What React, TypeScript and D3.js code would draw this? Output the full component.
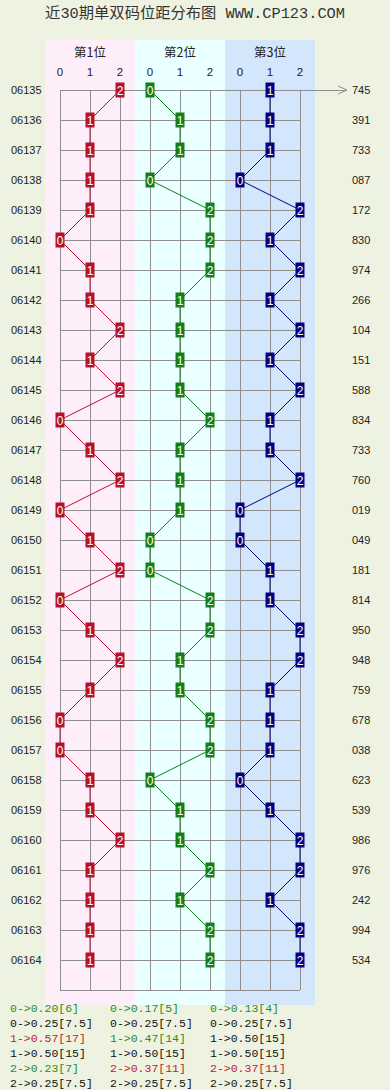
import React, { useEffect } from "react";
import * as d3 from "d3";

// issue numbers and draw results
const issues = ["06135", "06136", "06137", "06138", "06139", "06140", "06141", "06142", "06143", "06144",
  "06145", "06146", "06147", "06148", "06149", "06150", "06151", "06152", "06153", "06154",
  "06155", "06156", "06157", "06158", "06159", "06160", "06161", "06162", "06163", "06164"];
const numbers = ["745", "391", "733", "087", "172", "830", "974", "266", "104", "151",
  "588", "834", "733", "760", "019", "049", "181", "814", "950", "948",
  "759", "678", "038", "623", "539", "986", "976", "242", "994", "534"];

// position values (0/1/2) for each of the three places
const pos1 = [2, 1, 1, 1, 1, 0, 1, 1, 2, 1, 2, 0, 1, 2, 0, 1, 2, 0, 1, 2, 1, 0, 0, 1, 1, 2, 1, 1, 1, 1];
const pos2 = [0, 1, 1, 0, 2, 2, 2, 1, 1, 1, 1, 2, 1, 1, 1, 0, 0, 2, 2, 1, 1, 2, 2, 0, 1, 1, 2, 1, 2, 2];
const pos3 = [1, 1, 1, 0, 2, 1, 2, 1, 2, 1, 2, 1, 1, 2, 0, 0, 1, 1, 2, 2, 1, 1, 1, 0, 1, 2, 2, 1, 2, 2];

const panelNames = ["第1位", "第2位", "第3位"];
const digits = [0, 1, 2];
const expected = [0.25, 0.5, 0.25];

const W = 390, H = 1090;
const colors = ["#b8102c", "#12801a", "#000080"];
const panelBg = ["#fdeefa", "#eaffff", "#d4e6fb"];

const App = () => {
  useEffect(() => {
    document.body.style.margin = "0";
  }, []);

  const series = [pos1, pos2, pos3];
  const x = d3.scaleLinear().domain([0, 8]).range([60, 300]);
  const y = d3.scaleLinear().domain([0, issues.length - 1]).range([90, 960]);
  const yBottom = y(issues.length);
  const cols = d3.range(9);

  const line = (p: number) =>
    d3.line<number>()
      .x(d => x(p * 3 + d))
      .y((d, i) => y(i));

  const statRows = (vals: number[]) => {
    const n = vals.length;
    const rows: { text: string; color: string }[] = [];
    digits.forEach((d, k) => {
      const c = vals.filter(v => v === d).length;
      const e = expected[k] * n;
      const color = c > e ? "#c0202a" : c < e ? "#2a8a2a" : "#111";
      rows.push({ text: `${d}->${(c / n).toFixed(2)}[${c}]`, color });
      rows.push({ text: `${d}->${expected[k].toFixed(2)}[${e}]`, color: "#111" });
    });
    return rows;
  };

  return (
    <div style={{ position: "absolute", left: 0, top: 0 }}>
      <svg width={W} height={H} style={{ display: "block", background: "#eef3e1" }}>
        <text x={195} y={18} textAnchor="middle" fontSize={15.3} fill="#333"
          fontFamily="'Liberation Mono', 'Noto Sans CJK SC', monospace">
          近30期单双码位距分布图 WWW.CP123.COM
        </text>

        {panelNames.map((name, p) => (
          <g key={name}>
            <rect x={x(p * 3) - 15} y={40} width={90} height={965} fill={panelBg[p]} />
            <text x={x(p * 3 + 1)} y={57} textAnchor="middle" fontSize={12.5} fill="#222"
              fontFamily="'Noto Sans CJK SC', sans-serif">{name}</text>
            {digits.map(d => (
              <text key={d} x={x(p * 3 + d)} y={76} textAnchor="middle" fontSize={11.5} fill="#222"
                fontFamily="'Liberation Sans', Arial, sans-serif">{d}</text>
            ))}
          </g>
        ))}

        {/* grid */}
        <g stroke="#8e8e8e" strokeWidth={1} shapeRendering="crispEdges">
          {cols.map(c => (
            <line key={c} x1={x(c)} x2={x(c)} y1={y(0)} y2={yBottom} />
          ))}
          {issues.map((_, i) => (
            <line key={i} x1={x(0)} x2={i === 0 ? 346 : x(8)} y1={y(i)} y2={y(i)} />
          ))}
          <line x1={x(0)} x2={x(8)} y1={yBottom} y2={yBottom} />
        </g>
        <path d={`M338,${y(0) - 4}L347,${y(0)}L338,${y(0) + 4}`} fill="none" stroke="#8e8e8e" />

        {/* row labels */}
        <g fontSize={11} fill="#222" fontFamily="'Liberation Sans', Arial, sans-serif">
          {issues.map((s, i) => (
            <text key={s} x={11} y={y(i) + 4}>{s}</text>
          ))}
          {numbers.map((s, i) => (
            <text key={i} x={352} y={y(i) + 4}>{s}</text>
          ))}
        </g>

        {/* series */}
        {series.map((vals, p) => (
          <g key={p}>
            <path d={line(p)(vals) || ""} fill="none" stroke={colors[p]} strokeWidth={1} />
            {vals.map((v, i) => (
              <g key={i}>
                <rect x={x(p * 3 + v) - 4.5} y={y(i) - 7.5} width={9} height={15} fill={colors[p]} />
                <text x={x(p * 3 + v)} y={y(i) + 4.5} textAnchor="middle" fontSize={12} fill="#fff"
                  fontFamily="'Liberation Sans', Arial, sans-serif">{v}</text>
              </g>
            ))}
          </g>
        ))}

        {/* stats */}
        <g fontSize={11.5} fontFamily="'Liberation Mono', 'DejaVu Sans Mono', monospace">
          {series.map((vals, p) =>
            statRows(vals).map((r, k) => (
              <text key={`${p}-${k}`} x={10 + p * 100} y={1012 + k * 15} fill={r.color}>{r.text}</text>
            ))
          )}
        </g>
      </svg>
    </div>
  );
};

export default App;
